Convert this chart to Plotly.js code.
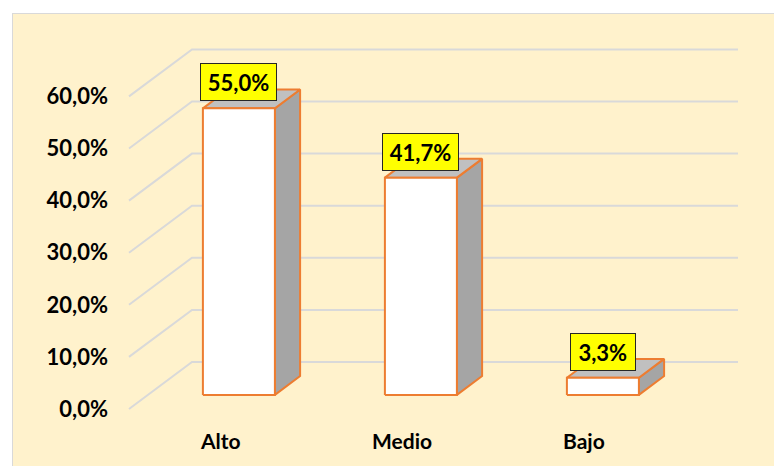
<!DOCTYPE html>
<html>
<head>
<meta charset="utf-8">
<script src="https://cdn.plot.ly/plotly-3.0.1.min.js"></script>
<style>
  html, body { margin: 0; padding: 0; background: #ffffff; }
  #bg { position: absolute; left: 12px; top: 13px; width: 762px; height: 453px;
        background: #FFF2CC; border-left: 1px solid #D9D9D9; border-top: 1px solid #D9D9D9; box-sizing: border-box; }
  #chart { position: absolute; left: 0; top: 0; width: 774px; height: 466px; }
</style>
</head>
<body>
<div id="bg"></div>
<div id="chart"></div>
<script>
// ---- data ----
const categories = ['Alto', 'Medio', 'Bajo'];
const values = [55.0, 41.7, 3.3];
const valueLabels = ['55,0%', '41,7%', '3,3%'];
const tickVals = [0, 10, 20, 30, 40, 50, 60];
const tickText = ['0,0%', '10,0%', '20,0%', '30,0%', '40,0%', '50,0%', '60,0%'];

// ---- pseudo-3D geometry (in axis units) ----
const pxPerCat = 182, pxPerPct = 5.21;
const depthX = 63 / pxPerCat, depthY = 47 / pxPerPct;
const frontFrac = 0.3, barDepthFrac = 0.4;
const barHalf = 36 / pxPerCat;
const W = 774, H = 466;
const mL = 124, mR = 30, mT = 40, mB = 50;
const x0px = 220, y0px = 409;
const xMin = (mL - x0px) / pxPerCat, xMax = (W - mR - x0px) / pxPerCat;
const yMin = -(H - mB - y0px) / pxPerPct, yMax = (y0px - mT) / pxPerPct;

const orange = '#ED7D31';
const traces = [];

// gridlines (front-left diagonal + back wall)
const gx = [], gy = [];
tickVals.forEach(v => {
  gx.push(-0.5, -0.5 + depthX, xMax - 6 / pxPerCat, null);
  gy.push(v, v + depthY, v + depthY, null);
});
traces.push({ x: gx, y: gy, mode: 'lines', line: { color: '#D9D9D9', width: 2 }, hoverinfo: 'skip', showlegend: false });

// bars
const fx = [], fy = [], tx = [], ty = [], sx = [], sy = [];
const dX = barDepthFrac * depthX, dY = barDepthFrac * depthY;
const yb = frontFrac * depthY;
values.forEach((v, i) => {
  const a = i + frontFrac * depthX - barHalf, b = i + frontFrac * depthX + barHalf;
  const yt = yb + v;
  fx.push(a, b, b, a, a, null); fy.push(yb, yb, yt, yt, yb, null);
  tx.push(a, b, b + dX, a + dX, a, null); ty.push(yt, yt, yt + dY, yt + dY, yt, null);
  sx.push(b, b + dX, b + dX, b, b, null); sy.push(yb, yb + dY, yt + dY, yt, yb, null);
});
[[sx, sy, '#A5A5A5'], [tx, ty, '#C0C0C0'], [fx, fy, '#FFFFFF']].forEach(([x, y, c]) => {
  traces.push({ x, y, mode: 'lines', fill: 'toself', fillcolor: c,
    line: { color: orange, width: 2 }, hoverinfo: 'skip', showlegend: false });
});

const font = 'Lato, "Open Sans", sans-serif';
const annotations = [];
values.forEach((v, i) => {
  annotations.push({
    x: i + frontFrac * depthX, y: yb + v, xref: 'x', yref: 'y',
    text: valueLabels[i], showarrow: false, yanchor: 'bottom', yshift: 7,
    font: { family: font, size: 22, color: '#000', weight: 'bold' },
    bgcolor: '#FFFF00', bordercolor: '#262626', borderwidth: 1, borderpad: 3,
    width: valueLabels[i].length * 11.5 + 11.5, height: 30
  });
  annotations.push({
    x: i, y: 0, xref: 'x', yref: 'y', text: categories[i], showarrow: false,
    yanchor: 'middle', yshift: -31,
    font: { family: font, size: 21, color: '#000', weight: 'bold' }
  });
});

const layout = {
  width: W, height: H,
  margin: { l: mL, r: mR, t: mT, b: mB },
  paper_bgcolor: 'rgba(0,0,0,0)', plot_bgcolor: 'rgba(0,0,0,0)',
  xaxis: { range: [xMin, xMax], showgrid: false, zeroline: false, showticklabels: false, showline: false, fixedrange: true },
  yaxis: { range: [yMin, yMax], tickvals: tickVals, ticktext: tickText, showgrid: false, zeroline: false, showline: false,
           ticks: '', ticklabelstandoff: 15,
           tickfont: { family: font, size: 22, color: '#000', weight: 'bold' }, fixedrange: true },
  annotations: annotations,
  showlegend: false
};
Plotly.newPlot('chart', traces, layout, { displayModeBar: false, staticPlot: true });
</script>
</body>
</html>
